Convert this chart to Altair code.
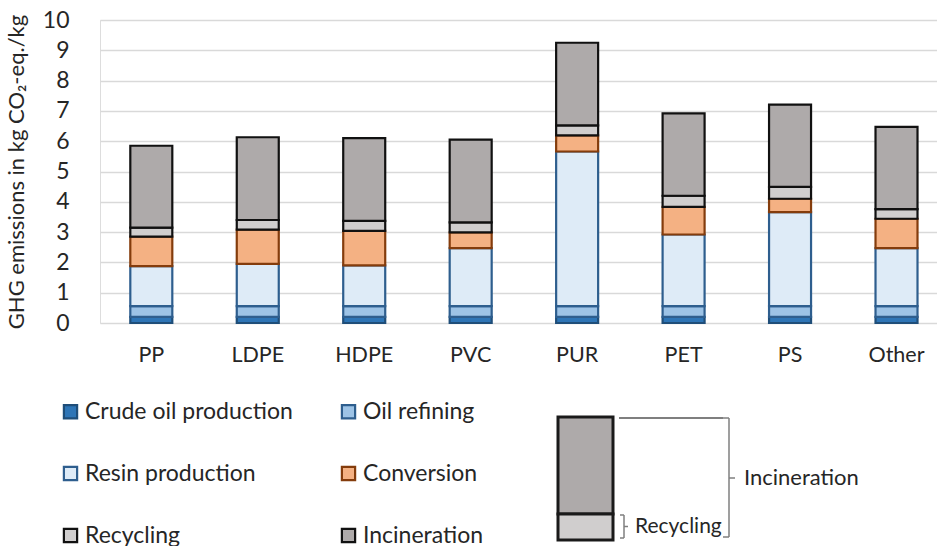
import altair as alt
import pandas as pd

categories = ["PP", "LDPE", "HDPE", "PVC", "PUR", "PET", "PS", "Other"]
stages = ["Crude oil production", "Oil refining", "Resin production",
          "Conversion", "Recycling", "Incineration"]
crude = [0.20, 0.20, 0.20, 0.20, 0.20, 0.20, 0.20, 0.20]
refining = [0.36, 0.36, 0.36, 0.36, 0.36, 0.36, 0.36, 0.36]
resin = [1.32, 1.39, 1.34, 1.91, 5.10, 2.36, 3.10, 1.91]
conversion = [0.97, 1.13, 1.14, 0.52, 0.53, 0.91, 0.44, 0.97]
recycling = [0.30, 0.32, 0.33, 0.33, 0.33, 0.37, 0.39, 0.32]
incineration = [2.70, 2.73, 2.73, 2.73, 2.73, 2.72, 2.72, 2.71]

fills = ["#2e75b6", "#9dc3e6", "#deebf7", "#f4b183", "#d0cece", "#aeaaaa"]
strokes = ["#1f4e79", "#2e5e8e", "#2e5e8e", "#843c0c", "#111111", "#111111"]
stroke_widths = [2.2, 2.2, 2.2, 2.2, 2.8, 2.8]

series = [crude, refining, resin, conversion, recycling, incineration]
rows = []
for si, (stage, vals) in enumerate(zip(stages, series)):
    for cat, v in zip(categories, vals):
        rows.append({"category": cat, "stage": stage, "order": si, "value": v})
df = pd.DataFrame(rows)

FONT = "Lato"
TXT = "#262626"

leg = alt.Legend(
    title=None, orient="none", legendX=-41, legendY=380, columns=2,
    direction="horizontal",
    symbolType="square", symbolSize=175, symbolStrokeWidth=2,
    labelFont=FONT, labelFontSize=23, labelColor=TXT, labelOffset=3,
    rowPadding=38, columnPadding=44, labelLimit=400,
)

bars = alt.Chart(df).mark_bar().encode(
    x=alt.X("category:N", sort=categories,
            scale=alt.Scale(paddingInner=0.6055, paddingOuter=0.2339, align=0.6086),
            axis=alt.Axis(title=None, labelAngle=0, ticks=False, domain=False,
                          labelFont=FONT, labelFontSize=21.5, labelColor=TXT,
                          labelPadding=21, grid=False)),
    y=alt.Y("value:Q", stack="zero",
            scale=alt.Scale(domain=[0, 10], nice=False),
            axis=alt.Axis(title="GHG emissions in kg CO\u2082-eq./kg", values=list(range(0, 11)),
                          ticks=False, domain=False, labelFont=FONT, labelFontSize=23,
                          labelColor=TXT, labelPadding=31, gridColor="#d9d9d9",
                          gridWidth=1.5, titleFont=FONT, titleFontSize=22,
                          titleFontWeight="normal", titleColor=TXT, titlePadding=14)),
    color=alt.Color("stage:N", scale=alt.Scale(domain=stages, range=fills), legend=leg),
    stroke=alt.Stroke("stage:N", scale=alt.Scale(domain=stages, range=strokes), legend=leg),
    strokeWidth=alt.StrokeWidth("stage:N", scale=alt.Scale(domain=stages, range=stroke_widths),
                                legend=None),
    order=alt.Order("order:Q"),
)

one = pd.DataFrame({"d": [0]})
base = alt.Chart(one)

inc_rect = base.mark_rect(fill="#aeaaaa", stroke="#1a1a1a", strokeWidth=3).encode(
    x=alt.value(458), x2=alt.value(513), y=alt.value(397), y2=alt.value(494))
rec_rect = base.mark_rect(fill="#d0cece", stroke="#1a1a1a", strokeWidth=3).encode(
    x=alt.value(458), x2=alt.value(513), y=alt.value(494), y2=alt.value(520))

def rule(x1, y1, x2, y2, color="#7f7f7f", w=1.5):
    return base.mark_rule(color=color, strokeWidth=w).encode(
        x=alt.value(x1), y=alt.value(y1), x2=alt.value(x2), y2=alt.value(y2))

lines = [
    rule(519, 398, 623, 398, color="#000000", w=1.2),
    rule(623, 398, 629, 398),
    rule(629, 398, 629, 517),
    rule(623, 517, 629, 517),
    rule(629, 458, 635, 458),
    rule(520, 495, 524, 495),
    rule(524, 495, 524, 518),
    rule(520, 518, 524, 518),
    rule(524, 506.5, 528, 506.5),
]

txt_inc = base.mark_text(text="Incineration", font=FONT, fontSize=22, color=TXT,
                         align="left", baseline="middle").encode(
    x=alt.value(644), y=alt.value(458))
txt_rec = base.mark_text(text="Recycling", font=FONT, fontSize=21, color=TXT,
                         align="left", baseline="middle").encode(
    x=alt.value(535), y=alt.value(507))

chart = alt.layer(bars, inc_rect, rec_rect, *lines, txt_inc, txt_rec).properties(
    width=837, height=303,
    autosize=alt.AutoSizeParams(type="none"),
    padding={"left": 100, "top": 20, "right": 0, "bottom": 223},
).configure_view(stroke=None).configure(background="white")

chart.save("out.html", embed_options={"renderer": "svg", "actions": False})
